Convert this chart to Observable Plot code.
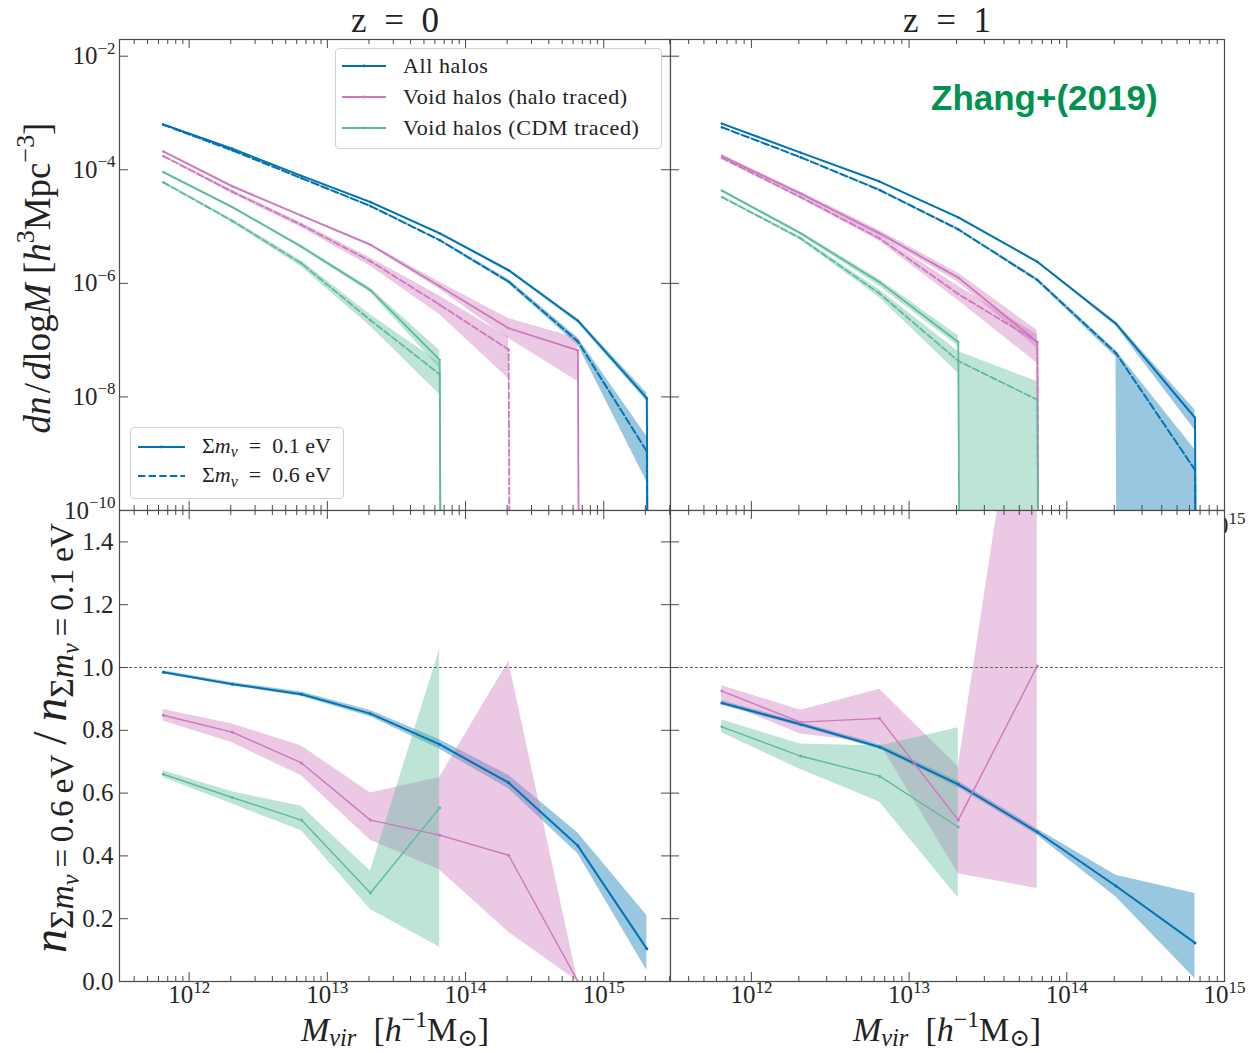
<!DOCTYPE html>
<html>
<head>
<meta charset="utf-8">
<script src="https://cdn.jsdelivr.net/npm/d3@7"></script>
<script src="https://cdn.jsdelivr.net/npm/@observablehq/plot@0.6"></script>
<style>
  body { margin: 0; background: #fff; }
  #fig { position: relative; width: 1249px; height: 1053px; overflow: hidden;
         font-family: "Liberation Serif", "DejaVu Serif", serif; color: #222; background: #fff; }
  .lbl { position: absolute; white-space: nowrap; line-height: 1; }
  .legend { position: absolute; border: 1px solid #d0d0d0; border-radius: 4px; background: rgba(255,255,255,0.85); }
</style>
</head>
<body>
<div id="fig"></div>
<script>
// ---------------------------------------------------------------------------
// Halo mass bins (bin centres, h^-1 Msun)
const massBins = [6.5e11, 2.05e12, 6.5e12, 2.05e13, 6.5e13, 2.05e14, 6.5e14, 2.05e15, 6.5e15];

// Mass functions dn/dlogM [h^3 Mpc^-3]; lo/hi are the shaded scatter bands.
// "Low" = Σmν = 0.1 eV, "High" = Σmν = 0.6 eV; a 0 marks an empty bin.
// z = 0
const z0AllLow = {
  n:  [6.3e-4, 2.34e-4, 7.8e-5, 2.7e-5, 7.6e-6, 1.7e-6, 2.2e-7, 9.5e-9, 0],
  lo: [6.2e-4, 2.3e-4, 7.6e-5, 2.6e-5, 7.3e-6, 1.6e-6, 2.0e-7, 8.3e-9, 0],
  hi: [6.4e-4, 2.4e-4, 8.0e-5, 2.8e-5, 7.9e-6, 1.8e-6, 2.35e-7, 1.17e-8, 0]
};
const z0AllHigh = {
  n:  [6.2e-4, 2.2e-4, 7.1e-5, 2.3e-5, 5.75e-6, 1.07e-6, 9.5e-8, 1.1e-9, 0],
  lo: [6.0e-4, 2.14e-4, 6.9e-5, 2.2e-5, 5.5e-6, 9.8e-7, 8.1e-8, 3.2e-10, 0],
  hi: [6.3e-4, 2.24e-4, 7.2e-5, 2.4e-5, 6.0e-6, 1.17e-6, 1.1e-7, 2.0e-9, 0]
};
const z0HaloLow = {
  n:  [2.1e-4, 5.1e-5, 1.55e-5, 4.8e-6, 8.9e-7, 1.62e-7, 6.6e-8, 0],
  lo: [2.0e-4, 4.9e-5, 1.48e-5, 4.5e-6, 7.9e-7, 1.07e-7, 1.86e-8, 0],
  hi: [2.2e-4, 5.4e-5, 1.62e-5, 5.0e-6, 1.05e-6, 2.4e-7, 1.07e-7, 0]
};
const z0HaloHigh = {
  n:  [1.74e-4, 4.1e-5, 1.07e-5, 2.45e-6, 4.2e-7, 6.8e-8, 0],
  lo: [1.66e-4, 3.8e-5, 9.5e-6, 2.0e-6, 2.8e-7, 2.1e-8, 0],
  hi: [1.82e-4, 4.4e-5, 1.17e-5, 2.8e-6, 6.0e-7, 1.12e-7, 0]
};
const z0CdmLow = {
  n:  [9.1e-5, 2.2e-5, 4.4e-6, 7.6e-7, 4.5e-8, 0],
  lo: [8.7e-5, 2.1e-5, 4.1e-6, 6.9e-7, 3.2e-8, 0],
  hi: [9.5e-5, 2.3e-5, 4.7e-6, 8.3e-7, 6.6e-8, 0]
};
const z0CdmHigh = {
  n:  [6.0e-5, 1.26e-5, 2.24e-6, 2.24e-7, 2.5e-8, 0],
  lo: [5.75e-5, 1.17e-5, 1.95e-6, 1.74e-7, 1.1e-8, 0],
  hi: [6.3e-5, 1.35e-5, 2.5e-6, 2.8e-7, 4.0e-8, 0]
};
// z = 1
const z1AllLow = {
  n:  [6.5e-4, 2.0e-4, 6.2e-5, 1.45e-5, 2.4e-6, 1.95e-7, 4.3e-9, 0],
  lo: [6.3e-4, 1.95e-4, 6.0e-5, 1.38e-5, 2.3e-6, 1.78e-7, 2.6e-9, 0],
  hi: [6.6e-4, 2.04e-4, 6.3e-5, 1.5e-5, 2.5e-6, 2.1e-7, 5.9e-9, 0]
};
const z1AllHigh = {
  n:  [5.6e-4, 1.66e-4, 4.4e-5, 8.9e-6, 1.15e-6, 5.9e-8, 5.2e-10, 0],
  lo: [5.5e-4, 1.62e-4, 4.2e-5, 8.5e-6, 1.07e-6, 5.0e-8, 0, 0],
  hi: [5.75e-4, 1.7e-4, 4.6e-5, 9.3e-6, 1.23e-6, 6.6e-8, 1.17e-9, 0]
};
const z1HaloLow = {
  n:  [1.74e-4, 3.8e-5, 7.6e-6, 1.26e-6, 9.3e-8, 0],
  lo: [1.62e-4, 3.55e-5, 6.8e-6, 1.05e-6, 7.1e-8, 0],
  hi: [1.86e-4, 4.1e-5, 8.5e-6, 1.51e-6, 1.48e-7, 0]
};
const z1HaloHigh = {
  n:  [1.62e-4, 3.3e-5, 6.2e-6, 6.5e-7, 9.3e-8, 0],
  lo: [1.51e-4, 3.1e-5, 5.5e-6, 5.0e-7, 3.9e-8, 0],
  hi: [1.74e-4, 3.55e-5, 7.1e-6, 8.9e-7, 1.26e-7, 0]
};
const z1CdmLow = {
  n:  [4.3e-5, 7.6e-6, 1.05e-6, 9.3e-8, 0],
  lo: [4.1e-5, 7.1e-6, 8.9e-7, 7.8e-8, 0],
  hi: [4.5e-5, 8.1e-6, 1.17e-6, 1.2e-7, 0]
};
const z1CdmHigh = {
  n:  [3.3e-5, 6.2e-6, 6.6e-7, 4.3e-8, 8.9e-9, 0],
  lo: [3.2e-5, 5.75e-6, 5.6e-7, 2.6e-8, 0, 0],
  hi: [3.5e-5, 6.6e-6, 7.6e-7, 6.3e-8, 1.86e-8, 0]
};

// Ratios n(0.6 eV) / n(0.1 eV) with their bands
const ratioZ0All  = { r:  [0.985, 0.947, 0.915, 0.853, 0.755, 0.633, 0.432, 0.104],
                      lo: [0.980, 0.942, 0.908, 0.843, 0.740, 0.614, 0.407, 0.035],
                      hi: [0.990, 0.952, 0.922, 0.863, 0.770, 0.657, 0.473, 0.210] };
const ratioZ0Halo = { r:  [0.848, 0.794, 0.696, 0.514, 0.466, 0.402, 0.0],
                      lo: [0.830, 0.760, 0.655, 0.450, 0.355, 0.157, 0.0],
                      hi: [0.866, 0.820, 0.750, 0.600, 0.650, 1.020, 0.0] };
const ratioZ0Cdm  = { r:  [0.660, 0.586, 0.514, 0.282, 0.553],
                      lo: [0.650, 0.565, 0.480, 0.229, 0.109],
                      hi: [0.671, 0.604, 0.558, 0.352, 1.058] };
const ratioZ1All  = { r:  [0.887, 0.819, 0.747, 0.628, 0.476, 0.304, 0.123],
                      lo: [0.880, 0.812, 0.740, 0.618, 0.466, 0.269, 0.009],
                      hi: [0.894, 0.826, 0.755, 0.638, 0.486, 0.338, 0.280] };
const ratioZ1Halo = { r:  [0.925, 0.826, 0.838, 0.514, 1.005],
                      lo: [0.891, 0.788, 0.758, 0.343, 0.296],
                      hi: [0.942, 0.864, 0.931, 0.684, 2.340] };
const ratioZ1Cdm  = { r:  [0.811, 0.718, 0.654, 0.492],
                      lo: [0.792, 0.675, 0.572, 0.266],
                      hi: [0.833, 0.756, 0.750, 0.808] };

// Axis ticks
const massTicks = [1e12, 1e13, 1e14, 1e15];
const hmfTicks = [1e-10, 1e-8, 1e-6, 1e-4, 1e-2];
const ratioTicks = [0, 0.2, 0.4, 0.6, 0.8, 1.0, 1.2, 1.4];
const legendLabels = ["All halos", "Void halos (halo traced)", "Void halos (CDM traced)"];

// ---------------------------------------------------------------------------
const BLUE = "#0173b2", PINK = "#cc78bc", GREEN = "#5dbb9c";
const INK = "#4a4a4a";
const SERIF = '"Liberation Serif", "DejaVu Serif", serif';
const fig = document.getElementById("fig");

// log axes: empty bins (<= 0) are pushed to a tiny positive value, as a
// clipping log axis does, so the curves fall straight off the bottom
const pos = v => (v > 0 ? v : 1e-300);
const hmfRows = s => s.n.map((v, i) => ({ m: massBins[i], v: pos(v), lo: pos(s.lo[i]), hi: pos(s.hi[i]), empty: !(v > 0) }));
const ratioRows = s => s.r.map((v, i) => ({ m: massBins[i], v, lo: s.lo[i], hi: s.hi[i] }));

function minorTicks(domain) {
  const out = [];
  for (let d = 11; d <= 15; d++) for (let k = 2; k <= 9; k++) {
    const v = k * 10 ** d;
    if (v > domain[0] && v < domain[1]) out.push(v);
  }
  return out;
}

const expLabel = d => "10^" + Math.round(Math.log10(d));

// turn "10^n" tick labels into 10 with a raised exponent
function supify(svg) {
  const ns = "http://www.w3.org/2000/svg";
  svg.querySelectorAll("text").forEach(t => {
    const m = /^10\^(-?\d+)$/.exec(t.textContent.trim());
    if (!m) return;
    t.textContent = "";
    const a = document.createElementNS(ns, "tspan");
    a.textContent = "10";
    const b = document.createElementNS(ns, "tspan");
    b.textContent = m[1].replace("-", "\u2212");
    b.setAttribute("font-size", "0.68em");
    b.setAttribute("dy", "-0.62em");
    t.append(a, b);
  });
}

function tickMarks({ xDomain, yTicks, innerW, innerH, rightTicks }) {
  const major = massTicks.filter(v => v >= xDomain[0] && v <= xDomain[1]);
  const minor = minorTicks(xDomain);
  const st = { stroke: INK, strokeWidth: 1 };
  const marks = [
    Plot.tickX(major, { x: d => d, insetBottom: innerH - 9, ...st }),
    Plot.tickX(major, { x: d => d, insetTop: innerH - 9, ...st }),
    Plot.tickX(minor, { x: d => d, insetBottom: innerH - 5, ...st }),
    Plot.tickX(minor, { x: d => d, insetTop: innerH - 5, ...st }),
    Plot.tickY(yTicks, { y: d => d, insetRight: innerW - 9, ...st })
  ];
  if (rightTicks) marks.push(Plot.tickY(yTicks, { y: d => d, insetLeft: innerW - 9, ...st }));
  return marks;
}

function place(svg, left, top) {
  svg.style.position = "absolute";
  svg.style.left = left + "px";
  svg.style.top = top + "px";
  supify(svg);
  fig.append(svg);
}

const plotStyle = { background: "transparent", overflow: "visible", fontFamily: SERIF, fontSize: "25px", color: "#262626" };

// ---------------------------------------------------------------------------
// mass-function panel
function hmfPanel({ left, width, ml, mr, xDomain, series, yLabels, rightTicks }) {
  const height = 520, mt = 39, mb = 10;
  const innerW = width - ml - mr, innerH = height - mt - mb;
  const marks = [Plot.frame({ fill: "white" })];
  for (const s of series) {
    marks.push(Plot.areaY(hmfRows(s.data), { x: "m", y1: "lo", y2: "hi", fill: s.color, fillOpacity: 0.4, clip: true }));
  }
  for (const s of series) {
    const rows = hmfRows(s.data);
    marks.push(Plot.line(rows, { x: "m", y: "v", stroke: s.color, strokeWidth: s.w,
      strokeDasharray: s.dash ? `${3.7 * s.w},${1.6 * s.w}` : null, clip: true }));
    marks.push(Plot.dot(rows.filter(d => !d.empty), { x: "m", y: "v", r: 1.2, fill: s.color, clip: true }));
  }
  marks.push(...tickMarks({ xDomain, yTicks: hmfTicks, innerW, innerH, rightTicks }));
  marks.push(Plot.frame({ stroke: INK, strokeWidth: 1.2 }));
  marks.push(Plot.axisX({ ticks: massTicks.filter(v => v >= xDomain[0] && v <= xDomain[1]), tickSize: 0, tickPadding: 6, tickFormat: expLabel, label: null }));
  if (yLabels) marks.push(Plot.axisY({ ticks: hmfTicks, tickSize: 0, tickPadding: 4, tickFormat: expLabel, label: null }));
  const svg = Plot.plot({
    width, height, marginLeft: ml, marginRight: mr, marginTop: mt, marginBottom: mb,
    style: plotStyle,
    x: { type: "log", domain: xDomain, axis: null },
    y: { type: "log", domain: [1e-10, 10 ** -1.706], axis: null },
    marks
  });
  place(svg, left, 0);
}

// ratio panel
function ratioPanel({ left, width, ml, mr, xDomain, series, yLabels, rightTicks }) {
  const height = 553, mt = 10, mb = 72;
  const innerW = width - ml - mr, innerH = height - mt - mb;
  const marks = [Plot.frame({ fill: "white" })];
  for (const s of series) {
    marks.push(Plot.areaY(ratioRows(s.data), { x: "m", y1: "lo", y2: "hi", fill: s.color, fillOpacity: 0.4, clip: true }));
  }
  marks.push(Plot.ruleY([1], { stroke: "#666", strokeWidth: 1, strokeDasharray: "3,2" }));
  for (const s of series) {
    const rows = ratioRows(s.data);
    marks.push(Plot.line(rows, { x: "m", y: "v", stroke: s.color, strokeWidth: s.w, clip: true }));
    marks.push(Plot.dot(rows, { x: "m", y: "v", r: 1.5, fill: s.color, clip: true }));
  }
  marks.push(...tickMarks({ xDomain, yTicks: ratioTicks, innerW, innerH, rightTicks }));
  marks.push(Plot.frame({ stroke: INK, strokeWidth: 1.2 }));
  marks.push(Plot.axisX({ ticks: massTicks.filter(v => v >= xDomain[0] && v <= xDomain[1] * 1.0001), tickSize: 0, tickPadding: 4, tickFormat: expLabel, label: null }));
  if (yLabels) marks.push(Plot.axisY({ ticks: ratioTicks, tickSize: 0, tickPadding: 6, tickFormat: d3.format(".1f"), label: null }));
  const svg = Plot.plot({
    width, height, marginLeft: ml, marginRight: mr, marginTop: mt, marginBottom: mb,
    style: plotStyle,
    x: { type: "log", domain: xDomain, axis: null },
    y: { type: "linear", domain: [0, 1.5], axis: null },
    marks
  });
  place(svg, left, 500);
}

const xDomainZ0 = [10 ** 11.496, 10 ** 15.483];
const xDomainZ1 = [10 ** 11.487, 1e15];

hmfPanel({ left: 0, width: 680, ml: 119, mr: 10, xDomain: xDomainZ0, yLabels: true, rightTicks: true, series: [
  { data: z0AllLow, color: BLUE, w: 2.0 }, { data: z0AllHigh, color: BLUE, w: 2.0, dash: true },
  { data: z0HaloLow, color: PINK, w: 1.8 }, { data: z0HaloHigh, color: PINK, w: 1.8, dash: true },
  { data: z0CdmLow, color: GREEN, w: 1.8 }, { data: z0CdmHigh, color: GREEN, w: 1.8, dash: true }
]});
hmfPanel({ left: 660, width: 589, ml: 10, mr: 25, xDomain: xDomainZ1, yLabels: false, rightTicks: false, series: [
  { data: z1AllLow, color: BLUE, w: 2.0 }, { data: z1AllHigh, color: BLUE, w: 2.0, dash: true },
  { data: z1HaloLow, color: PINK, w: 1.8 }, { data: z1HaloHigh, color: PINK, w: 1.8, dash: true },
  { data: z1CdmLow, color: GREEN, w: 1.8 }, { data: z1CdmHigh, color: GREEN, w: 1.8, dash: true }
]});
ratioPanel({ left: 0, width: 680, ml: 119, mr: 10, xDomain: xDomainZ0, yLabels: true, rightTicks: true, series: [
  { data: ratioZ0All, color: BLUE, w: 2.0 }, { data: ratioZ0Halo, color: PINK, w: 1.4 }, { data: ratioZ0Cdm, color: GREEN, w: 1.4 }
]});
ratioPanel({ left: 660, width: 589, ml: 10, mr: 25, xDomain: xDomainZ1, yLabels: false, rightTicks: false, series: [
  { data: ratioZ1All, color: BLUE, w: 2.0 }, { data: ratioZ1Halo, color: PINK, w: 1.4 }, { data: ratioZ1Cdm, color: GREEN, w: 1.4 }
]});

// ---------------------------------------------------------------------------
// titles and axis labels
function addLabel(html, css) {
  const d = document.createElement("div");
  d.className = "lbl";
  d.innerHTML = html;
  Object.assign(d.style, css);
  fig.append(d);
  return d;
}
const centred = "translate(-50%,-50%)";
const rotated = "translate(-50%,-50%) rotate(-90deg)";
const sup = s => `<span style="font-size:0.7em;position:relative;top:-0.6em">${s}</span>`;
const sub = (s, k = 0.72, dy = 0.3) => `<span style="font-size:${k}em;position:relative;top:${dy}em">${s}</span>`;

addLabel("z&#8194;=&#8194;0", { left: "395px", top: "20px", transform: centred, fontSize: "35px" });
addLabel("z&#8194;=&#8194;1", { left: "947px", top: "20px", transform: centred, fontSize: "35px" });

addLabel(`<i>dn</i>&#8202;/&#8202;<i>d</i>log<i>M</i> [<i>h</i>${sup("3")}Mpc${sup("\u22123")}]`,
  { left: "37px", top: "278px", transform: rotated, fontSize: "37px" });

const subNu = v => sub(`\u03a3<i>m</i>${sub("<i>\u03bd</i>", 0.72, 0.25)}&#8201;=&#8201;${v}&#8201;eV`, 0.7, 0.2);
addLabel(`<i>n</i>${subNu("0.6")}&#8201;/&#8201;<i>n</i>${subNu("0.1")}`,
  { left: "50px", top: "738px", transform: rotated, fontSize: "48px" });

const massLabel = `<i>M</i>${sub("<i>vir</i>", 0.72, 0.22)}&#8194;[<i>h</i>${sup("\u22121")}M${sub("\u2299", 0.72, 0.22)}]`;
addLabel(massLabel, { left: "395px", top: "1030px", transform: centred, fontSize: "34px" });
addLabel(massLabel, { left: "947px", top: "1030px", transform: centred, fontSize: "34px" });

addLabel("Zhang+(2019)", { left: "931px", top: "80px", fontFamily: '"Liberation Sans", Arial, sans-serif',
  fontWeight: "bold", fontSize: "35px", color: "#00934f" });

// ---------------------------------------------------------------------------
// legends
function legendBox(left, top, width, height) {
  const d = document.createElement("div");
  d.className = "legend";
  Object.assign(d.style, { left: left + "px", top: top + "px", width: width + "px", height: height + "px" });
  fig.append(d);
}
function swatch(x1, x2, y, color, w, dash) {
  const ns = "http://www.w3.org/2000/svg";
  const svg = document.createElementNS(ns, "svg");
  svg.setAttribute("width", x2 - x1 + 4);
  svg.setAttribute("height", 10);
  Object.assign(svg.style, { position: "absolute", left: (x1 - 2) + "px", top: (y - 5) + "px" });
  const l = document.createElementNS(ns, "line");
  l.setAttribute("x1", 2); l.setAttribute("x2", x2 - x1 + 2);
  l.setAttribute("y1", 5); l.setAttribute("y2", 5);
  l.setAttribute("stroke", color); l.setAttribute("stroke-width", w);
  if (dash) l.setAttribute("stroke-dasharray", `${3.7 * w},${1.6 * w}`);
  svg.append(l);
  if (!dash) {
    const c = document.createElementNS(ns, "circle");
    c.setAttribute("cx", (x2 - x1) / 2 + 2); c.setAttribute("cy", 5); c.setAttribute("r", 1.4);
    c.setAttribute("fill", color);
    svg.append(c);
  }
  fig.append(svg);
}

legendBox(335, 48, 325, 99);
[[BLUE, 2.2], [PINK, 2.0], [GREEN, 2.0]].forEach(([c, w], i) => {
  const y = 65.5 + i * 31;
  swatch(342, 386, y, c, w, false);
  addLabel(legendLabels[i], { left: "403px", top: y + "px", transform: "translateY(-50%)", fontSize: "22px", letterSpacing: "0.6px" });
});

legendBox(130, 427, 212, 70);
const nuLegend = v => `\u03a3<i>m</i>${sub("<i>\u03bd</i>", 0.72, 0.3)}&#8194;=&#8194;${v} eV`;
swatch(138, 185, 446.5, BLUE, 2.0, false);
addLabel(nuLegend("0.1"), { left: "202px", top: "446.5px", transform: "translateY(-55%)", fontSize: "22px" });
swatch(138, 185, 476, BLUE, 2.0, true);
addLabel(nuLegend("0.6"), { left: "202px", top: "476px", transform: "translateY(-55%)", fontSize: "22px" });
</script>
</body>
</html>
